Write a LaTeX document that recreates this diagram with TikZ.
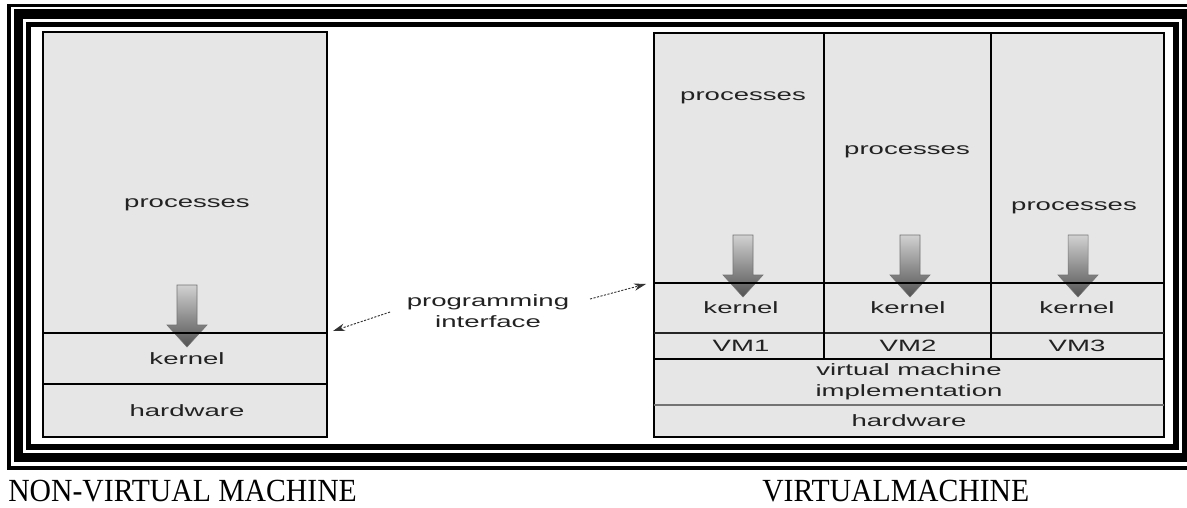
\documentclass[tikz,border=0pt]{standalone}
\usepackage{fontspec}
\newfontfamily\hel[FakeStretch=1.68]{Liberation Sans}
\newfontfamily\capfont[FakeStretch=0.92]{Liberation Serif}
\usetikzlibrary{arrows.meta}
\definecolor{boxgray}{RGB}{230,230,230}
\definecolor{txt}{RGB}{34,34,34}
\newcommand\blockarr[2]{%
  \shade[top color=black!18, bottom color=black!68, draw=black!55, line width=0.4pt]
   (#1-10,#2) -- (#1+10,#2) -- (#1+10,#2+40) -- (#1+20,#2+40) -- (#1,#2+62)
   -- (#1-20,#2+40) -- (#1-10,#2+40) -- cycle;}
\tikzset{
  lbl/.style={inner sep=0pt, text=txt, font=\hel\fontsize{12.3}{15.7}\selectfont, align=center},
  captxt/.style={inner sep=0pt, text=black, text depth=0pt, font=\capfont\fontsize{24.2}{28}\selectfont},
  boxline/.style={draw=black, line width=1.1pt, fill=boxgray},
  pia/.style={draw=black!80, line width=0.7pt, dash pattern=on 1.6pt off 1.1pt,
    -{Stealth[length=9pt,width=5.5pt]}}
}
\begin{document}
\begin{tikzpicture}[x=0.75pt,y=-0.75pt]
\useasboundingbox (0,0) rectangle (1187,507);
\clip (0,0) rectangle (1187,507);
\fill[white] (0,0) rectangle (1187,507);
% frame
\draw[line width=2.6pt] (9,5.5) rectangle (1196,468);
\draw[line width=7.1pt] (18.5,14) rectangle (1186.5,457.5);
\draw[line width=4.4pt] (28.5,24.5) rectangle (1176,447);
% left box
\draw[boxline] (43,32) rectangle (327,437);
\blockarr{187}{285}
\draw[line width=1.9pt] (43,333) -- (327,333);
\draw[line width=1.1pt] (43,384) -- (327,384);
\node[lbl] (lproc) at (187,205) {processes};
\node[lbl] (lkern) at (187,359) {kernel};
\node[lbl] (lhw) at (187,411) {hardware};
% right box
\draw[boxline] (654,33) rectangle (1164,437);
\blockarr{743}{235}
\blockarr{910}{235}
\blockarr{1078}{235}
\draw[line width=1.9pt] (654,283) -- (1164,283);
\draw[line width=0.9pt, draw=black!85] (654,333) -- (1164,333);
\draw[line width=1.4pt] (654,359) -- (1164,359);
\draw[line width=1.2pt, draw=black!55] (654,405) -- (1164,405);
\draw[line width=2.1pt] (824,33) -- (824,359);
\draw[line width=2.1pt] (991,33) -- (991,359);
\node[lbl] (p1) at (743,98) {processes};
\node[lbl] (p2) at (907,152) {processes};
\node[lbl] (p3) at (1074,208) {processes};
\node[lbl] (k1) at (741,308) {kernel};
\node[lbl] (k2) at (908,308) {kernel};
\node[lbl] (k3) at (1077,308) {kernel};
\node[lbl] (v1) at (741,346) {VM1};
\node[lbl] (v2) at (908,346) {VM2};
\node[lbl] (v3) at (1077,346) {VM3};
\node[lbl] (vmi) at (909,382) {virtual machine\\implementation};
\node[lbl] (rhw) at (909,421) {hardware};
% programming interface
\node[lbl] (pi) at (488,311) {programming\\interface};
\coordinate (ls) at (390,312);
\coordinate (lt) at (333,331);
\coordinate (rs) at (590,299);
\coordinate (rt) at (646,284);
\draw[pia] (ls) -- (lt);
\draw[pia] (rs) -- (rt);
% captions
\node[captxt, anchor=base west] (ncap) at (8,501.5) {NON-VIRTUAL MACHINE};
\node[captxt, anchor=base west] (vcap) at (762,501.5) {VIRTUALMACHINE};
\end{tikzpicture}
\end{document}
